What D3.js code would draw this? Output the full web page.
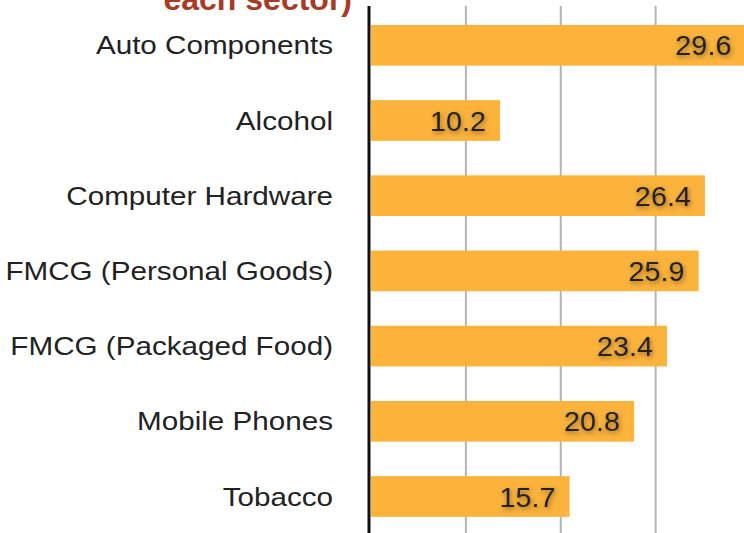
<!DOCTYPE html>
<html>
<head>
<meta charset="utf-8">
<script src="https://cdn.jsdelivr.net/npm/d3@7"></script>
<style>
  body { margin: 0; background: #fff; }
  svg { display: block; font-family: "Liberation Sans", Arial, sans-serif; }
</style>
</head>
<body>
<div id="chart"></div>
<script>
// sectors and their values
var categories = ['Auto Components', 'Alcohol', 'Computer Hardware', 'FMCG (Personal Goods)',
                  'FMCG (Packaged Food)', 'Mobile Phones', 'Tobacco'];
var values = [29.6, 10.2, 26.4, 25.9, 23.4, 20.8, 15.7];
var gridTicks = [7.5, 15, 22.5, 30];
var titleText = 'each sector)';

var w = 744;
var h = 533;

var data = categories.map((c, i) => ({name: c, value: values[i]}));

var x = d3.scaleLinear()
     .domain([0, 30])
     .range([371, 750.5]);

var y = d3.scaleBand()
     .domain(categories)
     .range([7.7, 534.1])
     .paddingInner(0.459)
     .paddingOuter(0.2295);

var svg = d3.select('#chart')
     .append('svg')
     .attr('width', w)
     .attr('height', h);

var defs = svg.append('defs');
var f = defs.append('filter')
     .attr('id', 'shadow')
     .attr('x', '-20%').attr('y', '-40%')
     .attr('width', '140%').attr('height', '180%');
f.append('feDropShadow')
     .attr('dx', 1).attr('dy', 2)
     .attr('stdDeviation', 2.5)
     .attr('flood-color', '#000')
     .attr('flood-opacity', 0.45);

// gridlines
svg.append('g')
   .selectAll('line')
   .data(gridTicks)
   .enter()
   .append('line')
   .attr('x1', d => x(d))
   .attr('x2', d => x(d))
   .attr('y1', 6)
   .attr('y2', h)
   .attr('stroke', '#b3b3b3')
   .attr('stroke-width', 2);

// bars
svg.append('g')
   .selectAll('rect')
   .data(data)
   .enter()
   .append('rect')
   .attr('x', x(0))
   .attr('y', d => y(d.name))
   .attr('width', d => x(d.value) - x(0))
   .attr('height', y.bandwidth())
   .attr('fill', '#fcb33c');

// y axis line
svg.append('line')
   .attr('x1', 369).attr('x2', 369)
   .attr('y1', 6).attr('y2', h)
   .attr('stroke', '#111')
   .attr('stroke-width', 3);

// category labels (the source font is a bit wider than Liberation Sans)
svg.append('g')
   .selectAll('text')
   .data(data)
   .enter()
   .append('text')
   .attr('transform', d => 'translate(333,' + (y(d.name) + y.bandwidth() / 2) + ') scale(1.14,1)')
   .attr('dy', '0.35em')
   .attr('text-anchor', 'end')
   .attr('font-size', 26)
   .attr('fill', '#222')
   .text(d => d.name);

// value labels
svg.append('g')
   .selectAll('text')
   .data(data)
   .enter()
   .append('text')
   .attr('transform', d => 'translate(' + (x(d.value) - 14) + ',' + (y(d.name) + y.bandwidth() / 2) + ') scale(1.03,1)')
   .attr('dy', '0.36em')
   .attr('text-anchor', 'end')
   .attr('font-size', 28)
   .attr('fill', '#222')
   .attr('filter', 'url(#shadow)')
   .text(d => d.value.toFixed(1));

// title (only its last line is in view)
svg.append('text')
   .attr('x', 352)
   .attr('y', 10)
   .attr('text-anchor', 'end')
   .attr('font-size', 32)
   .attr('font-weight', 'bold')
   .attr('fill', '#a93b26')
   .text(titleText);
</script>
</body>
</html>
